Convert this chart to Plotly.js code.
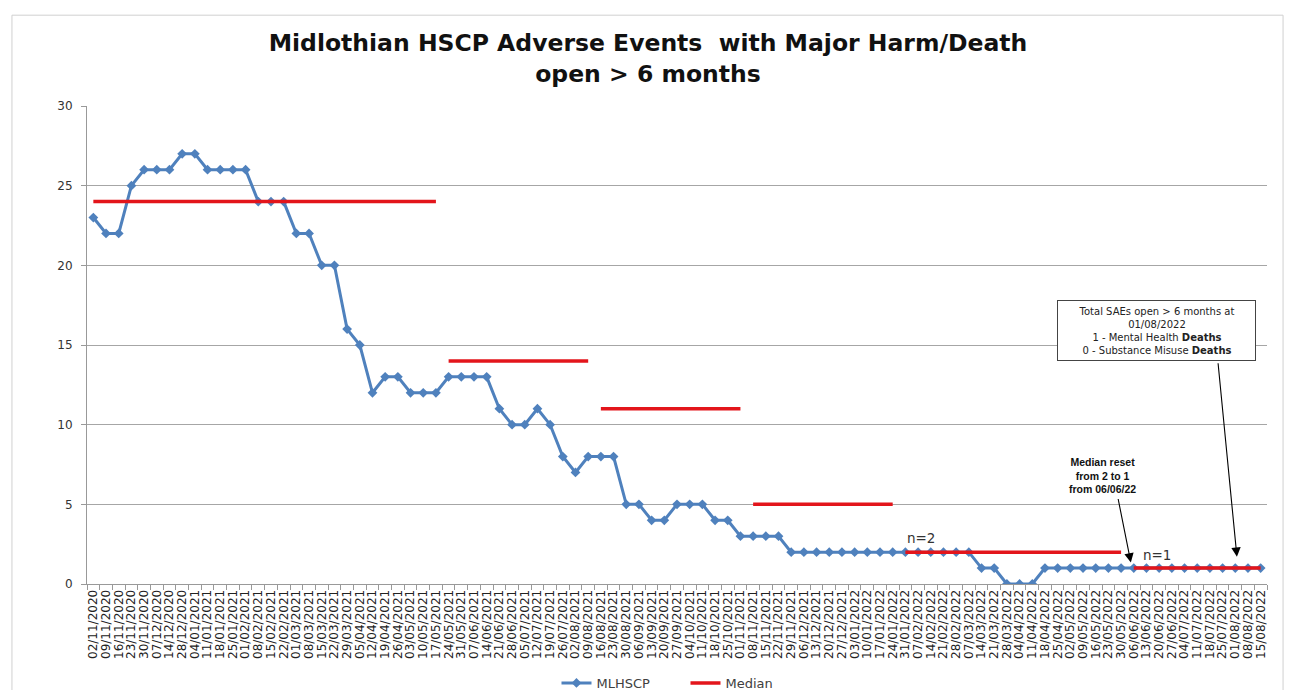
<!DOCTYPE html>
<html><head><meta charset="utf-8">
<script src="https://cdn.plot.ly/plotly-3.0.1.min.js"></script>
<style>html,body{margin:0;padding:0;background:#fff}</style>
</head><body>
<div id="chart" style="width:1290px;height:690px"></div>
<script>
const dates = ["02/11/2020","09/11/2020","16/11/2020","23/11/2020","30/11/2020","07/12/2020","14/12/2020","28/12/2020","04/01/2021","11/01/2021","18/01/2021","25/01/2021","01/02/2021","08/02/2021","15/02/2021","22/02/2021","01/03/2021","08/03/2021","15/03/2021","22/03/2021","29/03/2021","05/04/2021","12/04/2021","19/04/2021","26/04/2021","03/05/2021","10/05/2021","17/05/2021","24/05/2021","31/05/2021","07/06/2021","14/06/2021","21/06/2021","28/06/2021","05/07/2021","12/07/2021","19/07/2021","26/07/2021","02/08/2021","09/08/2021","16/08/2021","23/08/2021","30/08/2021","06/09/2021","13/09/2021","20/09/2021","27/09/2021","04/10/2021","11/10/2021","18/10/2021","25/10/2021","01/11/2021","08/11/2021","15/11/2021","22/11/2021","29/11/2021","06/12/2021","13/12/2021","20/12/2021","27/12/2021","03/01/2022","10/01/2022","17/01/2022","24/01/2022","31/01/2022","07/02/2022","14/02/2022","21/02/2022","28/02/2022","07/03/2022","14/03/2022","21/03/2022","28/03/2022","04/04/2022","11/04/2022","18/04/2022","25/04/2022","02/05/2022","09/05/2022","16/05/2022","23/05/2022","30/05/2022","06/06/2022","13/06/2022","20/06/2022","27/06/2022","04/07/2022","11/07/2022","18/07/2022","25/07/2022","01/08/2022","08/08/2022","15/08/2022"];

const mlhscp = [23,22,22,25,26,26,26,27,27,26,26,26,26,24,24,24,22,22,20,20,16,15,12,13,13,12,12,12,13,13,13,13,11,10,10,11,10,8,7,8,8,8,5,5,4,4,5,5,5,4,4,3,3,3,3,2,2,2,2,2,2,2,2,2,2,2,2,2,2,2,1,1,0,0,0,1,1,1,1,1,1,1,1,1,1,1,1,1,1,1,1,1,1];

const median = [24,24,24,24,24,24,24,24,24,24,24,24,24,24,24,24,24,24,24,24,24,24,24,24,24,24,24,24,
  14,14,14,14,14,14,14,14,14,14,14,14,
  11,11,11,11,11,11,11,11,11,11,11,11,
  5,5,5,5,5,5,5,5,5,5,5,5,
  2,2,2,2,2,2,2,2,2,2,2,2,2,2,2,2,2,2,
  1,1,1,1,1,1,1,1,1,1,1];

const seriesNames = ["MLHSCP", "Median"];
const yTicks = [0, 5, 10, 15, 20, 25, 30];

const traces = [{
  x: dates, y: mlhscp, type: "scatter", mode: "lines+markers", name: seriesNames[0],
  line: {color: "#4f81bd", width: 3},
  marker: {symbol: "diamond", size: 7.5, color: "#4f81bd"},
  hoverinfo: "x+y"
}];

// build median segments where the median value changes
let start = 0;
for (let i = 1; i <= median.length; i++) {
  if (i === median.length || median[i] !== median[start]) {
    traces.push({
      x: dates.slice(start, i), y: median.slice(start, i), type: "scatter", mode: "lines",
      name: seriesNames[1], legendgroup: "median", showlegend: start === 0,
      line: {color: "#e3151b", width: 3.5}
    });
    start = i;
  }
}

const layout = {
  width: 1290, height: 690,
  margin: {l: 87, r: 23, t: 106, b: 106, autoexpand: false},
  paper_bgcolor: "#fff", plot_bgcolor: "#fff",
  font: {family: "DejaVu Sans, Arial, sans-serif", color: "#333"},
  title: {
    text: "<b>Midlothian HSCP Adverse Events  with Major Harm/Death<br>open &gt; 6 months</b>",
    font: {family: "DejaVu Sans", size: 23.5, color: "#111"},
    xref: "container", yref: "container", x: 0.5023, xanchor: "center", y: 0.926, yanchor: "top"
  },
  xaxis: {
    type: "category", range: [-0.5, dates.length - 0.5],
    tickmode: "linear", tick0: 0, dtick: 1, tickson: "boundaries",
    ticks: "outside", ticklen: 5, tickcolor: "#999", tickangle: -90,
    tickfont: {size: 12, color: "#222"},
    showline: true, linecolor: "#999", linewidth: 1,
    showgrid: false, zeroline: false, automargin: false, fixedrange: true
  },
  yaxis: {
    range: [0, 30], tickmode: "array", tickvals: yTicks,
    ticks: "outside", ticklen: 5, tickcolor: "#999", ticklabelstandoff: 6,
    tickfont: {size: 12, color: "#333"},
    showline: true, linecolor: "#999", linewidth: 1,
    showgrid: true, gridcolor: "#a6a6a6", gridwidth: 1,
    zeroline: false, automargin: false, fixedrange: true
  },
  showlegend: true,
  legend: {
    orientation: "h", x: 0.5072, xanchor: "center", y: -0.207, yanchor: "middle",
    entrywidth: 84, entrywidthmode: "pixels",
    font: {size: 13, color: "#404040"}, bgcolor: "rgba(0,0,0,0)"
  },
  shapes: [{
    type: "rect", xref: "paper", yref: "paper",
    x0: -0.0636, x1: 1.0136, y0: -0.25, y1: 1.19,
    line: {color: "#d0d0d0", width: 1}, layer: "below"
  }],
  annotations: [
    {x: 64, y: 2.9, xref: "x", yref: "y", text: "n=2", showarrow: false, xanchor: "left", yanchor: "middle",
     font: {size: 13.5, color: "#333"}},
    {x: 82.6, y: 1.8, xref: "x", yref: "y", text: "n=1", showarrow: false, xanchor: "left", yanchor: "middle",
     font: {size: 13.5, color: "#333"}},
    {x: 79.57, y: 6.78, xref: "x", yref: "y", text: "<b>Median reset<br>from 2 to 1<br>from 06/06/22</b>",
     showarrow: false, xanchor: "center", yanchor: "middle", align: "center",
     font: {family: "Liberation Sans Narrow, Arial Narrow, Liberation Sans, sans-serif", size: 10.5, color: "#111"}},
    {x: 81.77, y: 1.35, xref: "x", yref: "y", text: "", showarrow: true, ax: -13, ay: -65,
     arrowhead: 2, arrowsize: 1.7, arrowwidth: 1.1, arrowcolor: "#000"},
    {x: 83.82, y: 15.91, xref: "x", yref: "y",
     text: "Total SAEs open &gt; 6 months at<br>01/08/2022<br>1 - Mental Health <b>Deaths</b><br>0 - Substance Misuse <b>Deaths</b>",
     showarrow: false, xanchor: "center", yanchor: "middle", align: "center",
     width: 195, height: 57, bgcolor: "#fff", bordercolor: "#444", borderwidth: 1, borderpad: 1,
     font: {size: 10, color: "#222"}},
    {x: 90.13, y: 1.71, xref: "x", yref: "y", text: "", showarrow: true, ax: -19, ay: -195,
     arrowhead: 2, arrowsize: 1.7, arrowwidth: 1.1, arrowcolor: "#000"}
  ]
};

Plotly.newPlot("chart", traces, layout, {displayModeBar: false, staticPlot: true});
</script>
</body></html>
